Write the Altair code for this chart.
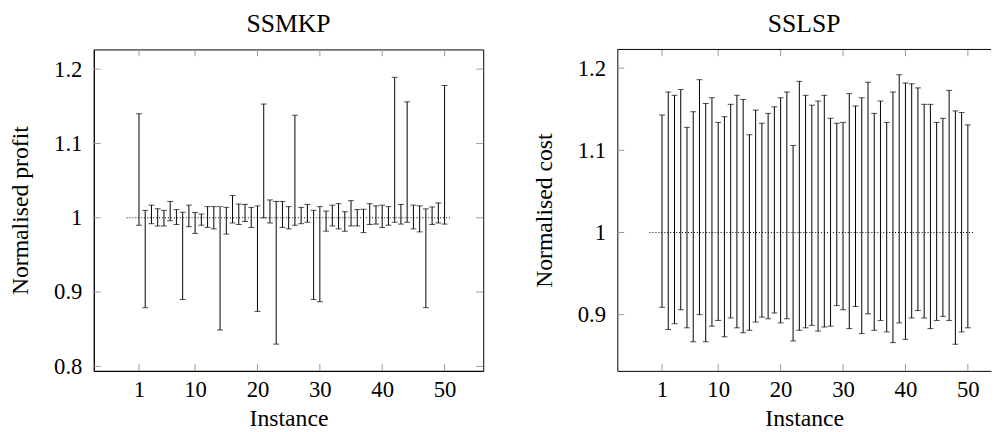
import altair as alt
import pandas as pd

instances = list(range(1, 51))

mkp_upper = [1.140, 1.010, 1.017, 1.012, 1.010, 1.022, 1.011, 1.0075, 1.017, 1.007,
             1.005, 1.015, 1.015, 1.015, 1.014, 1.030, 1.0185, 1.018, 1.014, 1.016,
             1.153, 1.024, 1.022, 1.022, 1.015, 1.138, 1.014, 1.018, 1.010, 1.015,
             1.009, 1.017, 1.019, 1.008, 1.023, 1.011, 1.0115, 1.019, 1.016, 1.017,
             1.015, 1.189, 1.018, 1.156, 1.017, 1.016, 1.012, 1.0145, 1.020, 1.178]
mkp_lower = [0.990, 0.879, 0.992, 0.989, 0.989, 0.996, 0.991, 0.890, 0.988, 0.979,
             0.990, 0.987, 0.985, 0.849, 0.978, 0.993, 0.991, 0.995, 0.987, 0.874,
             1.000, 0.993, 0.830, 0.987, 0.985, 0.990, 0.992, 0.994, 0.890, 0.887,
             0.982, 0.989, 0.985, 0.982, 0.989, 0.989, 0.980, 0.991, 0.9915, 0.987,
             0.990, 0.994, 0.9915, 0.994, 0.985, 0.981, 0.879, 0.991, 0.993, 0.9915]

lsp_upper = [1.143, 1.171, 1.167, 1.174, 1.128, 1.147, 1.186, 1.157, 1.164, 1.134,
             1.141, 1.156, 1.167, 1.162, 1.119, 1.149, 1.133, 1.145, 1.153, 1.164,
             1.171, 1.106, 1.184, 1.167, 1.155, 1.160, 1.167, 1.139, 1.133, 1.134,
             1.169, 1.154, 1.164, 1.183, 1.145, 1.160, 1.134, 1.171, 1.192, 1.182,
             1.181, 1.176, 1.156, 1.156, 1.134, 1.139, 1.173, 1.148, 1.146, 1.131]
lsp_lower = [0.909, 0.882, 0.889, 0.906, 0.884, 0.867, 0.900, 0.867, 0.886, 0.893,
             0.873, 0.896, 0.884, 0.878, 0.881, 0.891, 0.897, 0.895, 0.902, 0.890,
             0.895, 0.868, 0.881, 0.884, 0.887, 0.880, 0.885, 0.886, 0.911, 0.906,
             0.883, 0.910, 0.877, 0.901, 0.881, 0.893, 0.879, 0.866, 0.890, 0.870,
             0.896, 0.905, 0.896, 0.883, 0.893, 0.898, 0.893, 0.864, 0.879, 0.884]

x_ticks = [1, 10, 20, 30, 40, 50]
mkp_y_ticks = [0.8, 0.9, 1.0, 1.1, 1.2]
lsp_y_ticks = [0.9, 1.0, 1.1, 1.2]
ref_x = [-1, 51]
ref_y = [1.0, 1.0]

FONT = "Liberation Serif"
TICK_COLOR = "#9a9a9a"
TICK_LEN = 7


def panel(title, ytitle, lower, upper, xdomain, ydomain, yticks, width, height, framed):
    df = pd.DataFrame({"Instance": instances, "lo": lower, "hi": upper})
    xs = alt.Scale(domain=xdomain, nice=False, zero=False)
    ys = alt.Scale(domain=ydomain, nice=False, zero=False)
    x_axis = alt.Axis(values=x_ticks, title="Instance", ticks=False,
                      labelPadding=8, titlePadding=5)
    y_axis = alt.Axis(values=yticks, format="~g", title=ytitle, ticks=False,
                      labelPadding=12, titlePadding=21)

    bars = alt.Chart(df).mark_rule(color="black", strokeWidth=1).encode(
        x=alt.X("Instance:Q", scale=xs, axis=x_axis),
        y=alt.Y("lo:Q", scale=ys, axis=y_axis),
        y2="hi:Q",
    )
    cap_lo = alt.Chart(df).mark_tick(orient="horizontal", size=6, thickness=1, color="black").encode(
        x=alt.X("Instance:Q", scale=xs, axis=x_axis),
        y=alt.Y("lo:Q", scale=ys, axis=y_axis),
    )
    cap_hi = alt.Chart(df).mark_tick(orient="horizontal", size=6, thickness=1, color="black").encode(
        x=alt.X("Instance:Q", scale=xs, axis=x_axis),
        y=alt.Y("hi:Q", scale=ys, axis=y_axis),
    )
    ref = alt.Chart(pd.DataFrame({"x": ref_x, "y": ref_y})).mark_line(
        color="black", strokeWidth=1, strokeDash=[1, 2]
    ).encode(
        x=alt.X("x:Q", scale=xs, axis=x_axis),
        y=alt.Y("y:Q", scale=ys, axis=y_axis),
    )
    xt = alt.Chart(pd.DataFrame({"t": x_ticks}))
    xtick_bottom = xt.mark_rule(color=TICK_COLOR, strokeWidth=1).encode(
        x=alt.X("t:Q", scale=xs, axis=x_axis),
        y=alt.value(height), y2=alt.value(height - TICK_LEN))
    xtick_top = xt.mark_rule(color=TICK_COLOR, strokeWidth=1).encode(
        x=alt.X("t:Q", scale=xs, axis=x_axis),
        y=alt.value(0), y2=alt.value(TICK_LEN))
    yt = alt.Chart(pd.DataFrame({"t": yticks}))
    ytick_left = yt.mark_rule(color=TICK_COLOR, strokeWidth=1).encode(
        y=alt.Y("t:Q", scale=ys, axis=y_axis),
        x=alt.value(0), x2=alt.value(TICK_LEN))
    layers = [bars, cap_lo, cap_hi, ref, xtick_bottom, xtick_top, ytick_left]
    if framed:
        ytick_right = yt.mark_rule(color=TICK_COLOR, strokeWidth=1).encode(
            y=alt.Y("t:Q", scale=ys, axis=y_axis),
            x=alt.value(width - TICK_LEN), x2=alt.value(width))
        layers.append(ytick_right)
    else:
        top_border = alt.Chart(pd.DataFrame({"t": [0]})).mark_rule(
            color="black", strokeWidth=1
        ).encode(x=alt.value(0), x2=alt.value(width), y=alt.value(0))
        layers.append(top_border)
    ch = alt.layer(*layers).properties(
        width=width, height=height,
        title=alt.TitleParams(title, fontSize=26, font=FONT, fontWeight="normal",
                              baseline="alphabetic", offset=-9, color="black"),
    )
    if not framed:
        ch = ch.properties(view=alt.ViewBackground(stroke="transparent"))
    return ch


left = panel("SSMKP", "Normalised profit", mkp_lower, mkp_upper,
             [-6.25, 56.2], [0.794, 1.2265], mkp_y_ticks, 395, 326, True)
right = panel("SSLSP", "Normalised cost", lsp_lower, lsp_upper,
              [-6.16, 53.71], [0.8316, 1.2228], lsp_y_ticks, 379, 326, False)

chart = alt.hconcat(left, right, spacing=48).properties(
    padding={"left": 0, "top": 0, "right": 0, "bottom": 0},
    background="white",
).configure_view(
    stroke="black", strokeWidth=1
).configure_axis(
    domainColor="black", domainWidth=1, grid=False,
    labelFont=FONT, labelFontSize=23, labelColor="black",
    titleFont=FONT, titleFontSize=24, titleFontWeight="normal", titleColor="black",
)

chart.save("out.html", embed_options={"renderer": "svg", "actions": False})
